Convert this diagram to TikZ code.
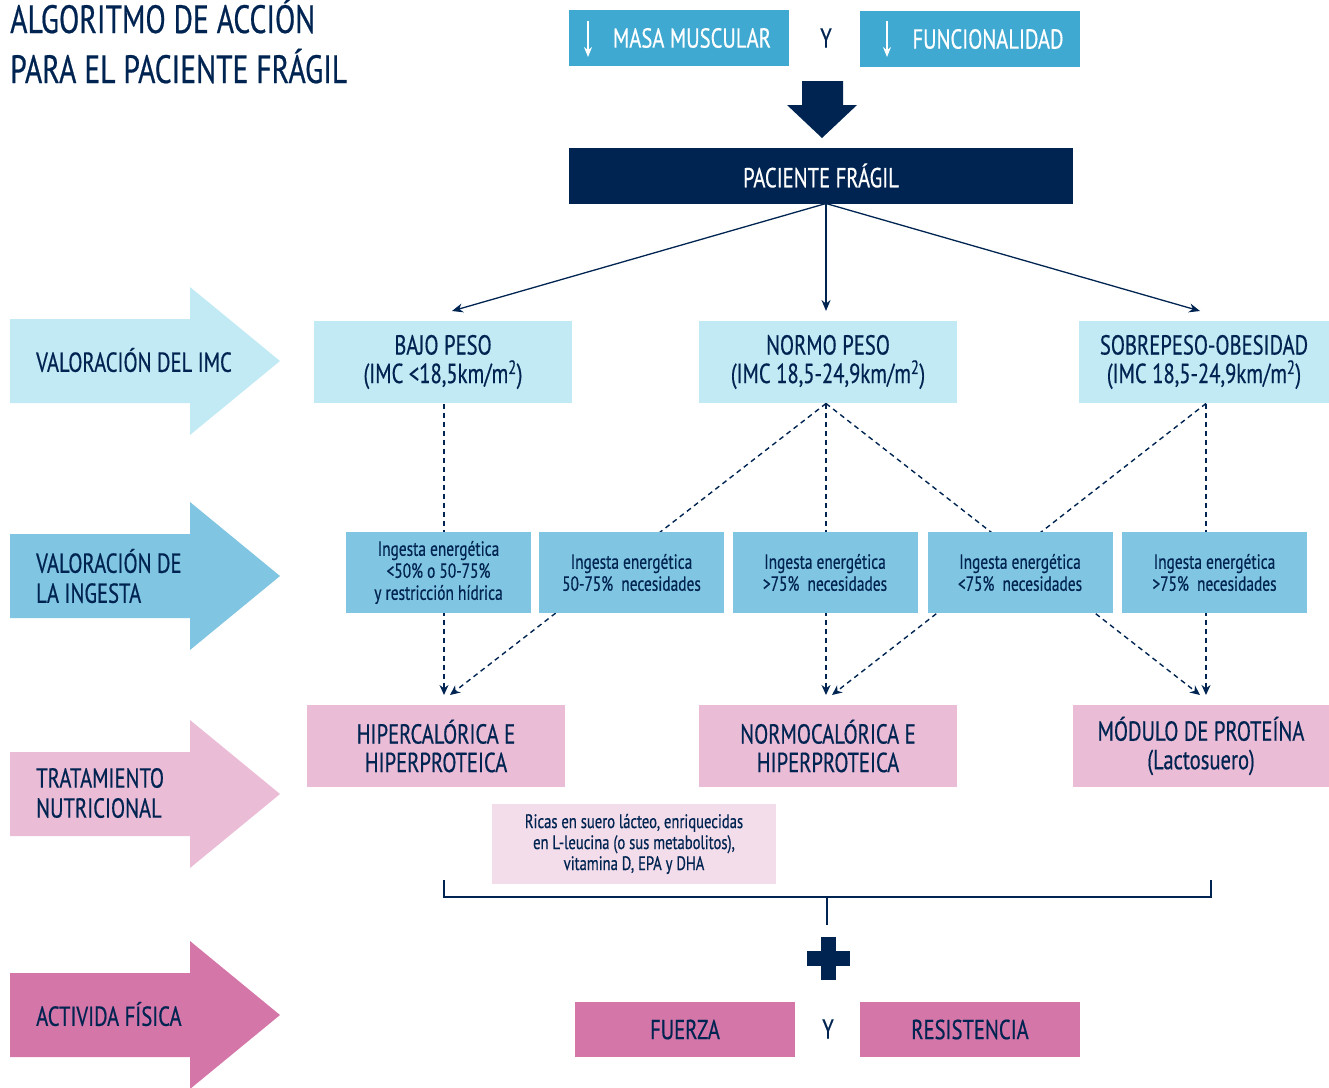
\documentclass[tikz,border=0pt]{standalone}
\usepackage{fontspec}
\setmainfont{PT Sans}[FakeStretch=0.75,FakeBold=0.5]
\usetikzlibrary{arrows.meta,calc}
\definecolor{navy}{HTML}{002451}
\definecolor{topblue}{HTML}{3FA9D1}
\definecolor{lcyan}{HTML}{C2EAF4}
\definecolor{ingblue}{HTML}{80C5E1}
\definecolor{lpink}{HTML}{EBBCD6}
\definecolor{vlpink}{HTML}{F3DDEB}
\definecolor{magenta2}{HTML}{D576A9}
\newcommand\sztitle{\fontsize{39.5}{50}\selectfont}
\newcommand\szbox{\fontsize{27.5}{28.5}\selectfont}
\newcommand\szlab{\fontsize{27.5}{30}\selectfont}
\newcommand\szsmall{\fontsize{20.5}{22}\selectfont}
\newcommand\szrich{\fontsize{19.5}{21}\selectfont}
\begin{document}
\begin{tikzpicture}[x=1pt,y=-1pt,
  every node/.style={text=navy, inner sep=0pt},
  bx/.style={fill=#1, align=center, font=\szbox},
  imcbox/.style={bx=lcyan, minimum width=258pt, minimum height=82pt},
  ingbox/.style={fill=ingblue, align=center, font=\szsmall, minimum width=185pt, minimum height=81pt},
  trbox/.style={bx=lpink, minimum width=258pt, minimum height=82pt},
  topbox/.style={fill=topblue, minimum width=220pt, minimum height=56pt},
  afbox/.style={bx=magenta2, minimum width=220pt, minimum height=55pt},
  lab/.style={anchor=west, align=left, font=\szlab},
  conn/.style={draw=navy, line width=1.3pt, -{Stealth[length=11pt,width=9pt]}},
  dconn/.style={draw=navy, line width=1.4pt, dash pattern=on 5pt off 4pt, -{Stealth[length=10pt,width=9pt]}},
  wtext/.style={text=white, font=\szbox}
]
\useasboundingbox (0,0) rectangle (1329,1087);

% title
\node[anchor=base west, font=\sztitle] (t1) at (10,33) {ALGORITMO DE ACCIÓN};
\node[anchor=base west, font=\sztitle] (t2) at (10,83) {PARA EL PACIENTE FRÁGIL};

% left arrows
\fill[lcyan] (10,319) -- (190,319) -- (190,287) -- (280,361) -- (190,435) -- (190,403) -- (10,403) -- cycle;
\fill[ingblue] (10,534) -- (190,534) -- (190,502) -- (280,576) -- (190,650) -- (190,618) -- (10,618) -- cycle;
\fill[lpink] (10,752) -- (190,752) -- (190,720) -- (280,794) -- (190,868) -- (190,836) -- (10,836) -- cycle;
\fill[magenta2] (10,973) -- (190,973) -- (190,941) -- (280,1015) -- (190,1089) -- (190,1057) -- (10,1057) -- cycle;
\node[lab] (l1) at (36,360) {VALORACIÓN DEL IMC};
\node[lab] (l2) at (36,576) {VALORACIÓN DE\\LA INGESTA};
\node[lab] (l3) at (36,793) {TRATAMIENTO\\NUTRICIONAL};
\node[lab] (l4) at (36,1014) {ACTIVIDA FÍSICA};

% top boxes
\node[topbox] (masa) at (679,38) {};
\node[topbox] (func) at (970,39) {};
\node[wtext] (masat) at (692,38) {MASA MUSCULAR};
\node[wtext] (funct) at (988,39) {FUNCIONALIDAD};
\coordinate (ma1) at (588,21); \coordinate (ma2) at (588,57);
\coordinate (fa1) at (887,21); \coordinate (fa2) at (887,57);
\draw[white, line width=1.3pt, -{Stealth[length=10pt,width=8pt]}] (ma1) -- (ma2);
\draw[white, line width=1.3pt, -{Stealth[length=10pt,width=8pt]}] (fa1) -- (fa2);
\node[font=\szbox] (y1) at (826,38) {Y};

% big arrow
\fill[navy] (802,81) -- (843,81) -- (843,105) -- (857,105) -- (822,138) -- (787,105) -- (802,105) -- cycle;

% paciente fragil
\node[fill=navy, minimum width=504pt, minimum height=56pt, wtext] (pf) at (821,175.5) {PACIENTE FRÁGIL};

% IMC boxes
\node[imcbox] (bajo) at (443,362) {BAJO PESO\\(IMC <18,5km/m\textsuperscript{2})};
\node[imcbox] (normo) at (828,362) {NORMO PESO\\(IMC 18,5-24,9km/m\textsuperscript{2})};
\node[imcbox, minimum width=250pt] (sobre) at (1204,362) {SOBREPESO-OBESIDAD\\(IMC 18,5-24,9km/m\textsuperscript{2})};

% solid connectors
\coordinate (pfo) at (826,203.5);
\coordinate (e1) at (452,311);
\coordinate (e2) at (826,311);
\coordinate (e3) at (1200,311);
\draw[conn] (pfo) -- (e1);
\draw[conn] (pfo) -- (e2);
\draw[conn] (pfo) -- (e3);

% dashed connectors
\coordinate (b0) at (444,403.5);
\coordinate (n0) at (826,403.5);
\coordinate (s0) at (1206,403.5);
\coordinate (h1) at (444,695);
\coordinate (h2) at (450,695);
\coordinate (m1) at (826,695);
\coordinate (m2) at (832,695);
\coordinate (p1) at (1200,695);
\coordinate (p2) at (1206,695);
\draw[dconn] (b0) -- (h1);
\draw[dconn] (n0) -- (h2);
\draw[dconn] (n0) -- (m1);
\draw[dconn] (n0) -- (p1);
\draw[dconn] (s0) -- (m2);
\draw[dconn] (s0) -- (p2);

% ingesta boxes
\node[ingbox] (i1) at (438.5,572.5) {Ingesta energética\\<50\% o 50-75\%\\y restricción hídrica};
\node[ingbox] (i2) at (631.5,572.5) {Ingesta energética\\50-75\%\ \ necesidades};
\node[ingbox] (i3) at (825,572.5) {Ingesta energética\\>75\%\ \ necesidades};
\node[ingbox] (i4) at (1020,572.5) {Ingesta energética\\<75\%\ \ necesidades};
\node[ingbox] (i5) at (1214.5,572.5) {Ingesta energética\\>75\%\ \ necesidades};

% treatment boxes
\node[trbox] (hiper) at (436,746) {HIPERCALÓRICA E\\HIPERPROTEICA};
\node[trbox] (normoc) at (828,746) {NORMOCALÓRICA E\\HIPERPROTEICA};
\node[trbox, minimum width=256pt] (modulo) at (1201,746) {MÓDULO DE PROTEÍNA\\(Lactosuero)};
\node[fill=vlpink, minimum width=284pt, minimum height=80pt, align=center, font=\szrich] (rich) at (634,844) {Ricas en suero lácteo, enriquecidas\\en L-leucina (o sus metabolitos),\\vitamina D, EPA y DHA};

% bracket
\coordinate (bl) at (444,880);
\coordinate (br) at (1211,880);
\coordinate (bc) at (827,897);
\coordinate (bs) at (827,925);
\draw[navy, line width=2pt] (bl) |- (bc) -| (br);
\draw[navy, line width=2pt] (bc) -- (bs);

% plus
\fill[navy] (807,951) rectangle (850,966);
\fill[navy] (821,937) rectangle (836,980);

% actividad boxes
\node[afbox] (fuerza) at (685,1029.5) {FUERZA};
\node[afbox] (resist) at (970,1029.5) {RESISTENCIA};
\node[font=\szbox] (y2) at (828,1029) {Y};
\end{tikzpicture}
\end{document}
